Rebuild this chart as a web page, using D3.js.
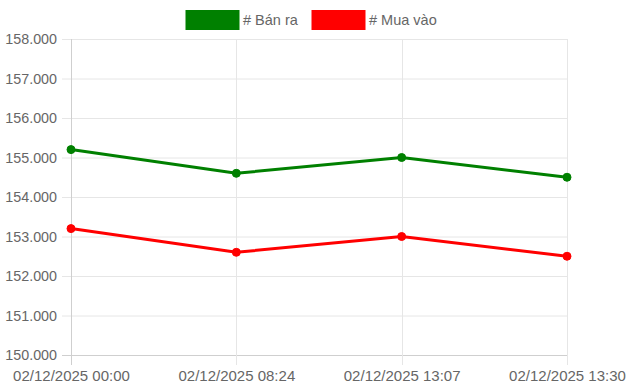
<!DOCTYPE html>
<html>
<head>
<meta charset="utf-8">
<script src="https://cdn.jsdelivr.net/npm/d3@7/dist/d3.min.js"></script>
<style>
  body { margin: 0; background: #fff; }
  svg text { font-family: "Liberation Sans", Arial, sans-serif; fill: #666; }
</style>
</head>
<body>
<div id="chart"></div>
<script>
var labels = ['02/12/2025 00:00', '02/12/2025 08:24', '02/12/2025 13:07', '02/12/2025 13:30'];
var banRa = [155200, 154600, 155000, 154500];
var muaVao = [153200, 152600, 153000, 152500];
var yTicks = [150000, 151000, 152000, 153000, 154000, 155000, 156000, 157000, 158000];

var series = [
  { name: '# Bán ra', values: banRa, color: '#008000' },
  { name: '# Mua vào', values: muaVao, color: '#ff0000' }
];

var width = 630, height = 392;
var margin = { top: 39, right: 63, bottom: 37, left: 71 };

var svg = d3.select('#chart')
  .append('svg')
  .attr('width', width)
  .attr('height', height);

var x = d3.scalePoint()
  .domain(labels)
  .range([margin.left, width - margin.right]);

var y = d3.scaleLinear()
  .domain([150000, 158000])
  .range([height - margin.bottom, margin.top]);

var fmt = function (v) { return d3.format(',')(v).replace(/,/g, '.'); };

// grid
var grid = svg.append('g');
grid.selectAll('.hgrid')
  .data(yTicks)
  .enter()
  .append('line')
  .attr('x1', margin.left - 9)
  .attr('x2', width - margin.right)
  .attr('y1', function (d) { return y(d) + 0.5; })
  .attr('y2', function (d) { return y(d) + 0.5; })
  .attr('stroke', function (d) { return d === 150000 ? '#cfcfcf' : '#e6e6e6'; })
  .attr('stroke-width', 1);

grid.selectAll('.vgrid')
  .data(labels)
  .enter()
  .append('line')
  .attr('x1', function (d) { return Math.round(x(d)) + 0.5; })
  .attr('x2', function (d) { return Math.round(x(d)) + 0.5; })
  .attr('y1', margin.top)
  .attr('y2', height - margin.bottom + 10)
  .attr('stroke', function (d, i) { return i === 0 ? '#cfcfcf' : '#e6e6e6'; })
  .attr('stroke-width', 1);

// y axis labels
svg.append('g')
  .attr('transform', 'translate(' + (margin.left - 14) + ',0)')
  .call(d3.axisLeft(y).tickValues(yTicks).tickFormat(fmt).tickSize(0).tickPadding(0))
  .call(function (g) { g.select('.domain').remove(); })
  .selectAll('text')
  .attr('font-size', 14.3)
  .attr('font-family', '"Liberation Sans", Arial, sans-serif')
  .attr('fill', '#666');

// x axis labels
svg.append('g')
  .attr('transform', 'translate(0,' + (height - margin.bottom + 12) + ')')
  .call(d3.axisBottom(x).tickSize(0).tickPadding(3))
  .call(function (g) { g.select('.domain').remove(); })
  .selectAll('text')
  .attr('font-size', 15)
  .attr('font-family', '"Liberation Sans", Arial, sans-serif')
  .attr('fill', '#666');

// lines
var line = d3.line()
  .x(function (d, i) { return x(labels[i]); })
  .y(function (d) { return y(d); });

series.forEach(function (s) {
  svg.append('path')
    .datum(s.values)
    .attr('d', line)
    .attr('fill', 'none')
    .attr('stroke', s.color)
    .attr('stroke-width', 3);

  svg.selectAll(null)
    .data(s.values)
    .enter()
    .append('circle')
    .attr('cx', function (d, i) { return x(labels[i]); })
    .attr('cy', function (d) { return y(d); })
    .attr('r', 4)
    .attr('fill', s.color)
    .attr('stroke', s.color)
    .attr('stroke-width', 1);
});

// legend
var legend = svg.append('g');
var legX = [186, 312];
series.forEach(function (s, i) {
  legend.append('rect')
    .attr('x', legX[i])
    .attr('y', 10.5)
    .attr('width', 53)
    .attr('height', 19)
    .attr('fill', s.color)
    .attr('stroke', s.color);
  legend.append('text')
    .attr('x', legX[i] + 57)
    .attr('y', 20)
    .attr('dy', '0.35em')
    .attr('font-size', 14.5)
    .text(s.name);
});
</script>
</body>
</html>
